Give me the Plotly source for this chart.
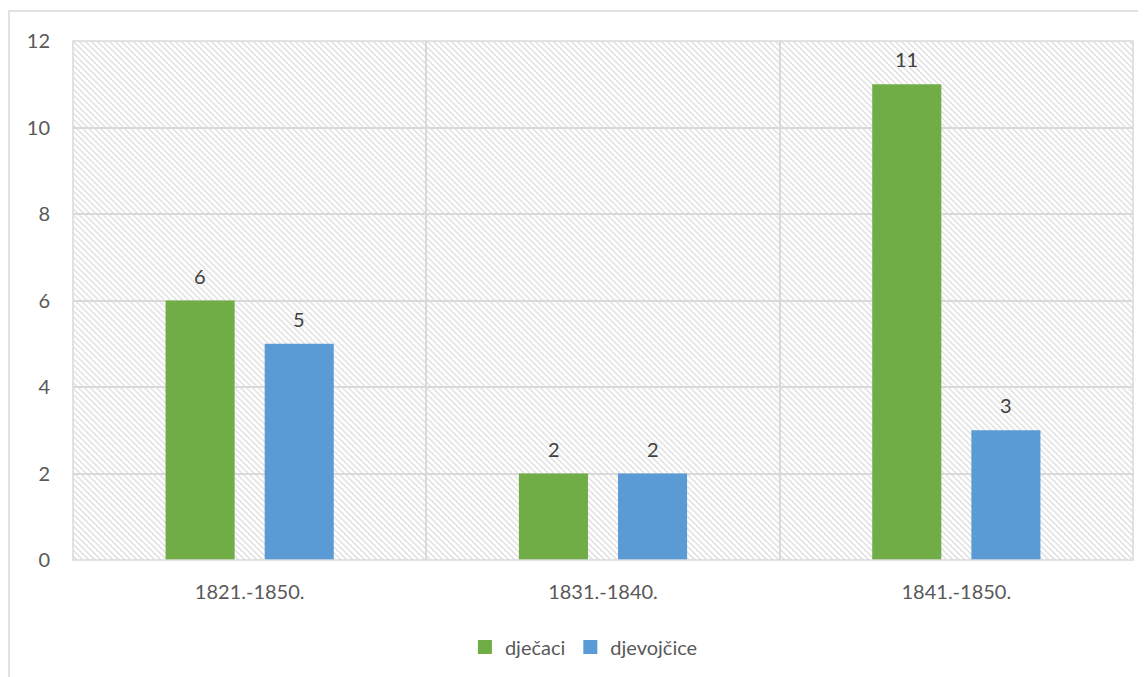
import base64
import plotly.graph_objects as go

categories = ["1821.-1850.", "1831.-1840.", "1841.-1850."]
djecaci = [6, 2, 11]
djevojcice = [5, 2, 3]
series_names = ["dječaci", "djevojčice"]
series_colors = ["#70AD47", "#5B9BD5"]
y_ticks = [0, 2, 4, 6, 8, 10, 12]

# page body has an 8px margin, so the figure is sized/offset to compensate
W, H = 1138, 669
ML, MT, PW, PH = 65, 33, 1060, 520
MR, MB = W - ML - PW, H - MT - PH

svg = f'''<svg xmlns="http://www.w3.org/2000/svg" width="{PW}" height="{PH}">
<defs><pattern id="p" patternUnits="userSpaceOnUse" width="6" height="6">
<path d="M-1,5 L1,7 M-1,-1 L7,7 M5,-1 L7,1" stroke="#dedede" stroke-width="1.4"/>
</pattern></defs>
<rect width="{PW}" height="{PH}" fill="white"/>
<rect width="{PW}" height="{PH}" fill="url(#p)"/>
</svg>'''
src = "data:image/svg+xml;base64," + base64.b64encode(svg.encode()).decode()

font = "Lato, 'Liberation Sans', sans-serif"
FS = 20

fig = go.Figure()
for name, vals, col in zip(series_names, (djecaci, djevojcice), series_colors):
    fig.add_trace(go.Bar(
        x=categories, y=vals, name=name, showlegend=False,
        marker=dict(color=col, line=dict(width=0)),
    ))
# legend entries with larger square swatches
for name, col in zip(series_names, series_colors):
    fig.add_trace(go.Scatter(
        x=[None], y=[None], mode="markers", name=name,
        marker=dict(symbol="square", size=14, color=col, line=dict(width=0)),
    ))

annotations = []
for series, shift in ((djecaci, -49.5), (djevojcice, 49.5)):
    for c, v in zip(categories, series):
        annotations.append(dict(
            x=c, y=v, xref="x", yref="y", text=str(v), showarrow=False,
            xshift=shift, yshift=25, xanchor="center", yanchor="middle",
            font=dict(size=FS, color="#404040", family=font),
        ))

fig.update_layout(
    width=W, height=H,
    margin=dict(l=ML, r=MR, t=MT, b=MB, pad=0),
    paper_bgcolor="white", plot_bgcolor="white",
    font=dict(family=font, size=FS, color="#595959"),
    barmode="group", bargap=0.439, bargroupgap=0.303,
    showlegend=True,
    legend=dict(orientation="h", x=0.482, xanchor="center",
                y=(PH + MT - 639) / PH, yanchor="middle",
                font=dict(size=FS, color="#595959"),
                traceorder="normal", itemwidth=30),
    annotations=annotations,
    images=[dict(source=src, xref="paper", yref="paper", x=0, y=1,
                 sizex=1, sizey=1, xanchor="left", yanchor="top",
                 sizing="stretch", layer="below")],
    shapes=[
        dict(type="rect", xref="paper", yref="paper",
             x0=(1 - ML) / PW, x1=(W + 30 - ML) / PW,
             y0=(MT + PH - (H + 30)) / PH, y1=(MT + PH - 3) / PH,
             line=dict(color="#d9d9d9", width=1.5), fillcolor="rgba(0,0,0,0)", layer="below"),
        dict(type="rect", xref="paper", yref="paper", x0=0, x1=1, y0=0, y1=1,
             line=dict(color="#d9d9d9", width=1.5), fillcolor="rgba(0,0,0,0)", layer="above"),
    ],
)
fig.update_xaxes(
    type="category", showgrid=True, gridcolor="#d9d9d9", gridwidth=1.5,
    tickson="boundaries", ticks="", showline=False, zeroline=False,
    tickfont=dict(size=FS, color="#595959"), ticklabelstandoff=18,
)
fig.update_yaxes(
    range=[0, 12], tickvals=y_ticks, showgrid=True, gridcolor="#d9d9d9", gridwidth=1.5,
    ticks="", showline=False, zeroline=False,
    tickfont=dict(size=FS, color="#595959"), ticklabelstandoff=22,
)

fig.write_html("out.html")
